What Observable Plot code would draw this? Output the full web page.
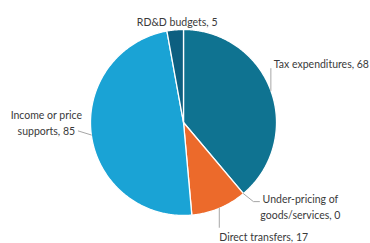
<!DOCTYPE html>
<html><head><meta charset="utf-8">
<script src="https://cdn.jsdelivr.net/npm/d3@7"></script>
<script src="https://cdn.jsdelivr.net/npm/@observablehq/plot@0.6"></script>
<style>body{margin:0;background:#fff}</style>
</head><body><div id="chart"></div>
<script>
const categories = ["Tax expenditures", "Under-pricing of goods/services", "Direct transfers", "Income or price supports", "RD&D budgets"];
const values = [68, 0, 17, 85, 5];
const labels = ["Tax expenditures, 68", "Under-pricing of\ngoods/services, 0", "Direct transfers, 17", "Income or price\nsupports, 85", "RD&D budgets, 5"];
const colors = ["#0f7391", "#ffffff", "#ec6a2b", "#1aa3d5", "#0d5f80"];

// layout (pixels)
const W = 370, H = 243, cx = 183, cy = 122, R = 93;
// leader offsets relative to slice anchor, label offset relative to anchor
const layout = [
  {leader: [[0, 0], [0, -22]], label: [3, -28], anchor: "start"},
  {leader: [[0, 0], [10, 8], [16, 8]], label: [57, 12], anchor: "middle"},
  {leader: [[0, 0], [0, 19]], label: [0, 28], anchor: "start"},
  {leader: [[0, 0], [-13, -4]], label: [-45, -13], anchor: "middle"},
  {leader: [], label: [2, -9], anchor: "middle"}
];

const arcs = d3.pie().sort(null).value(d => d)(values);
const slicePts = [];
const leaderPts = [];
const labelRows = [];
arcs.forEach((a, i) => {
  const span = a.endAngle - a.startAngle;
  if (span > 0) {
    const n = Math.max(2, Math.ceil(span / 0.01));
    slicePts.push({cat: categories[i], x: cx, y: cy});
    for (let k = 0; k <= n; k++) {
      const t = a.startAngle + span * k / n;
      slicePts.push({cat: categories[i], x: cx + R * Math.sin(t), y: cy - R * Math.cos(t)});
    }
    slicePts.push({cat: categories[i], x: cx, y: cy});
  }
  const mid = (a.startAngle + a.endAngle) / 2;
  const ax = cx + R * Math.sin(mid), ay = cy - R * Math.cos(mid);
  layout[i].leader.forEach(([dx, dy]) => leaderPts.push({cat: categories[i], x: ax + dx, y: ay + dy}));
  labelRows.push({text: labels[i], x: ax + layout[i].label[0], y: ay + layout[i].label[1], anchor: layout[i].anchor});
});

const chart = Plot.plot({
  width: W, height: H,
  margin: 0,
  x: {domain: [0, W], range: [0, W], axis: null},
  y: {domain: [0, H], range: [0, H], axis: null},
  color: {domain: categories, range: colors},
  style: {fontFamily: "Lato, 'Open Sans', sans-serif", background: "#fff"},
  marks: [
    Plot.line(slicePts, {x: "x", y: "y", z: "cat", fill: "cat", stroke: "white", strokeWidth: 1.3, curve: "linear"}),
    Plot.line(leaderPts, {x: "x", y: "y", z: "cat", stroke: "#a6a6a6", strokeWidth: 1}),
    ...["start", "middle"].map(anc => Plot.text(labelRows.filter(d => d.anchor === anc), {
      x: "x", y: "y", text: "text", textAnchor: anc, fontSize: 10.5, fill: "#3a3a3a", lineHeight: 1.5
    }))
  ]
});
document.getElementById("chart").appendChild(chart);
</script>
</body></html>
